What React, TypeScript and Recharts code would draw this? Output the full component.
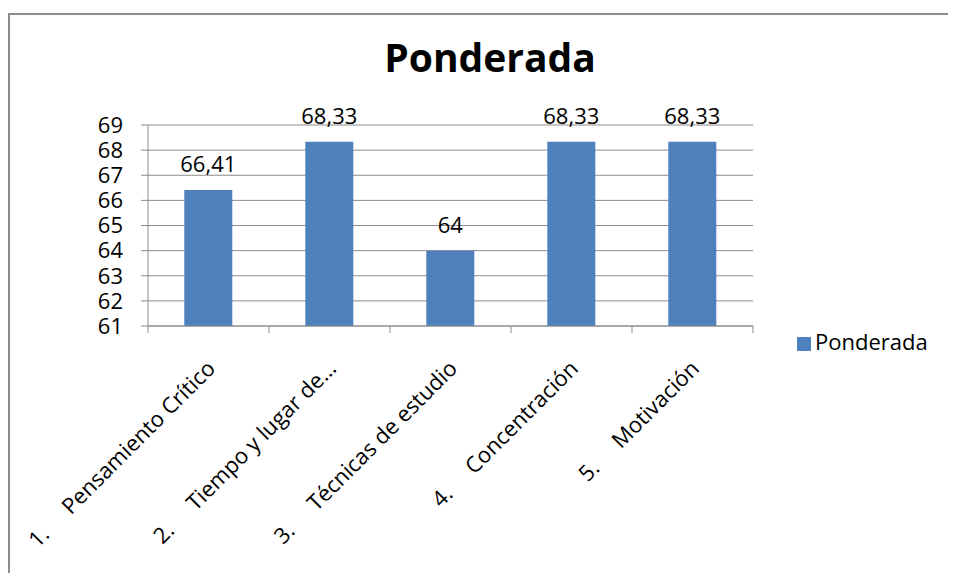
import React from 'react';
import {
  BarChart,
  Bar,
  XAxis,
  YAxis,
  CartesianGrid,
  Legend,
  LabelList
} from 'recharts';

// categories and values
const categories = [
  '1.     Pensamiento Crítico',
  '2.     Tiempo y lugar de…',
  '3.     Técnicas de estudio',
  '4.     Concentración',
  '5.     Motivación'
];
const ponderada = [66.41, 68.33, 64, 68.33, 68.33];
const yTicks = [61, 62, 63, 64, 65, 66, 67, 68, 69];

const data = categories.map((name, i) => ({ name, Ponderada: ponderada[i] }));

const FONT = '"Open Sans", "Noto Sans", sans-serif';
const GRID = '#8c8c8c';
const BAR = '#4F81BD';

const CHART_W = 940;
const CHART_H = 560;
const MARGIN = { top: 112, right: 195, left: 0, bottom: 0 };
const Y_W = 140;
const PLOT_W = CHART_W - MARGIN.left - MARGIN.right - Y_W;

// category tick: boundary tick marks + rotated label ending under the bar
const CategoryTick = (props: any) => {
  const { x, y, payload, index } = props;
  const half = payload && payload.offset ? payload.offset : PLOT_W / categories.length / 2;
  const last = index === categories.length - 1;
  const tx = x + 8;
  const ty = y + 44;
  return (
    <g>
      <line x1={x - half} y1={y} x2={x - half} y2={y + 7} stroke={GRID} />
      {last && <line x1={x + half} y1={y} x2={x + half} y2={y + 7} stroke={GRID} />}
      <text
        x={tx}
        y={ty}
        transform={`rotate(-45, ${tx}, ${ty})`}
        textAnchor="end"
        fill="#000"
        fontSize={22}
        fontFamily={FONT}
        style={{ whiteSpace: 'pre' }}
        xmlSpace="preserve"
      >
        {payload.value}
      </text>
    </g>
  );
};

const fmt = (v: any) => String(v).replace('.', ',');

export default function App() {
  return (
    <div style={{ position: 'relative', width: 948, height: 565, overflow: 'hidden', fontFamily: FONT }}>
      <div
        style={{
          position: 'absolute',
          left: 0,
          top: 5,
          width: 1000,
          height: 700,
          borderTop: '2px solid #8c8c8c',
          borderLeft: '2px solid #8c8c8c',
          boxSizing: 'border-box'
        }}
      />
      <div
        style={{
          position: 'absolute',
          left: 182,
          top: 29,
          width: 600,
          textAlign: 'center',
          fontSize: 39,
          fontWeight: 700,
          lineHeight: 1,
          color: '#000'
        }}
      >
        Ponderada
      </div>
      <div style={{ position: 'absolute', left: 0, top: 5 }}>
        <BarChart
          width={CHART_W}
          height={CHART_H}
          data={data}
          margin={MARGIN}
          barCategoryGap="30%"
        >
          <CartesianGrid horizontal vertical={false} stroke={GRID} strokeOpacity={1} />
          <XAxis
            dataKey="name"
            height={247}
            interval={0}
            tickSize={0}
            tickMargin={0}
            tickLine={false}
            axisLine={{ stroke: GRID }}
            tick={<CategoryTick />}
          />
          <YAxis
            width={Y_W}
            domain={[61, 69]}
            ticks={yTicks}
            interval={0}
            allowDataOverflow
            tickSize={7}
            tickMargin={18}
            tickLine={{ stroke: GRID }}
            axisLine={{ stroke: GRID }}
            tick={{ fill: '#000', fontSize: 22, fontFamily: FONT }}
          />
          <Legend
            layout="vertical"
            align="center"
            verticalAlign="middle"
            iconType="square"
            iconSize={14}
            wrapperStyle={{ left: 789, top: 313, width: 'auto', fontFamily: FONT, fontSize: 22 }}
            formatter={(value: any) => <span style={{ color: '#000' }}>{value}</span>}
          />
          <Bar dataKey="Ponderada" fill={BAR} isAnimationActive={false}>
            <LabelList
              dataKey="Ponderada"
              position="top"
              offset={18}
              formatter={fmt}
              fill="#000"
              fontSize={22}
              fontFamily={FONT}
            />
          </Bar>
        </BarChart>
      </div>
    </div>
  );
}
